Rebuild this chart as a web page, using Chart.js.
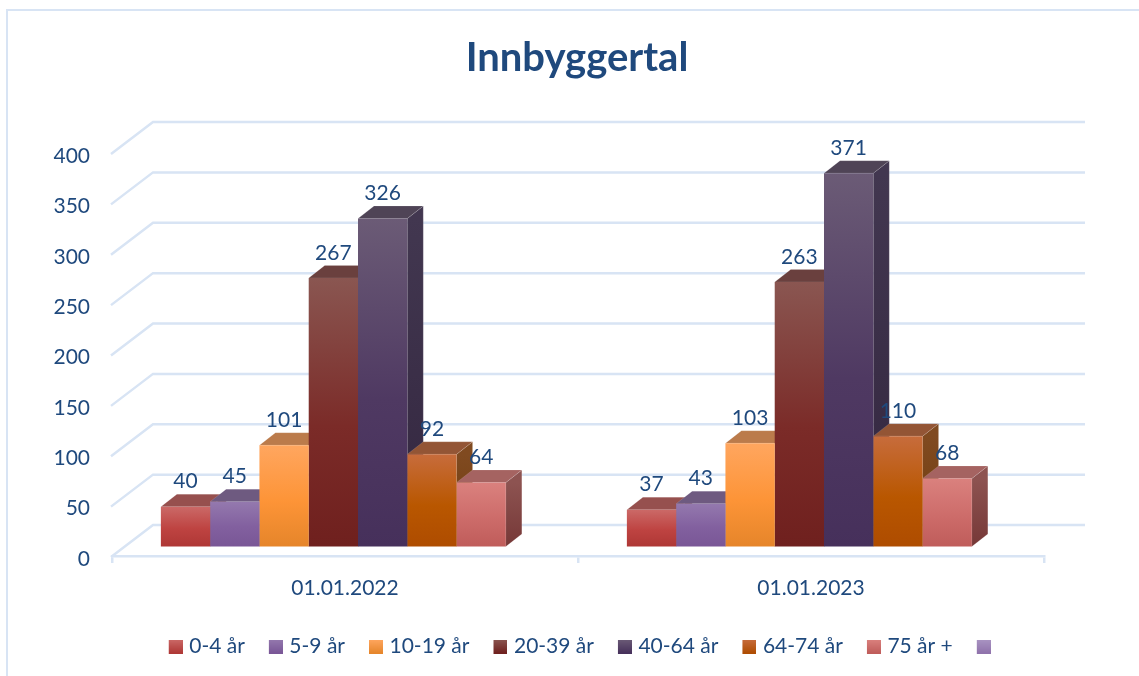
<!DOCTYPE html>
<html>
<head>
<meta charset="utf-8">
<title>Innbyggertal</title>
<script src="https://cdn.jsdelivr.net/npm/chart.js@4"></script>
<style>
  html, body { margin: 0; padding: 0; background: #fff; overflow: hidden; }
  canvas { display: block; }
</style>
</head>
<body>
<canvas id="chart" width="1139" height="676"></canvas>
<script>
var categories = ['01.01.2022', '01.01.2023'];
var seriesNames = ['0-4 år', '5-9 år', '10-19 år', '20-39 år', '40-64 år', '64-74 år', '75 år +', ''];
var age0to4 = [40, 37];
var age5to9 = [45, 43];
var age10to19 = [101, 103];
var age20to39 = [267, 263];
var age40to64 = [326, 371];
var age64to74 = [92, 110];
var age75plus = [64, 68];
var ageBlank = [null, null];
var seriesValues = [age0to4, age5to9, age10to19, age20to39, age40to64, age64to74, age75plus, ageBlank];

// front top, front middle, front bottom, top face, side top, side bottom
var palette = [
    ['#cb6967', '#be4341', '#ae3735', '#96504e', '#8a4644', '#7a3230'],
    ['#9479ae', '#82609f', '#795696', '#6e5a80', '#5f4a75', '#54406a'],
    ['#ffa65f', '#fd9437', '#e5852a', '#bb7b4b', '#a86a38', '#96591f'],
    ['#8a5651', '#7b2b28', '#6f201e', '#6a403e', '#552c2a', '#471a18'],
    ['#6b5b76', '#4f3962', '#46305b', '#4f4456', '#423750', '#33263f'],
    ['#c76c3c', '#b95700', '#ae4c00', '#935535', '#804a20', '#6d3a0c'],
    ['#da817e', '#cd6c6a', '#bf5c5a', '#a56361', '#8d5351', '#763837'],
    ['#a994c2', '#9679b0', '#8f72ab', '#7a6590', '#6a5580', '#5a4570']
];

var textColor = '#1f497d';
var gridColor = '#d8e4f4';
var gridWidth = 2.5;
var edgeColor = 'rgba(255,255,255,0.12)';
var wallDx = 41, wallDy = -31;   // depth of the floor and side wall
var barDx = 13, barDy = -9;      // bars stand a bit back from the front edge
var faceDx = 16, faceDy = -12.5; // depth of each bar
var legendShift = 4;

function frontFill(index) {
    return function (c) {
        var p = palette[index];
        if (!c.parsed || c.parsed.y == null || !c.chart.scales.y) return p[1];
        var y = c.chart.scales.y;
        var g = c.chart.ctx.createLinearGradient(0, y.getPixelForValue(c.parsed.y), 0, y.getPixelForValue(0));
        g.addColorStop(0, p[0]);
        g.addColorStop(0.55, p[1]);
        g.addColorStop(1, p[2]);
        return g;
    };
}

// the swatch sits at the right of a wider canvas, that puts it closer to its text
function legendIcon(index) {
    var cv = document.createElement('canvas');
    cv.width = 22;
    cv.height = 14;
    var cx = cv.getContext('2d');
    var g = cx.createLinearGradient(0, 0, 0, 14);
    g.addColorStop(0, palette[index][0]);
    g.addColorStop(1, palette[index][2]);
    cx.fillStyle = g;
    cx.fillRect(8, 0, 14, 14);
    return cv;
}

function fillShape(ctx, pts, fill) {
    ctx.beginPath();
    ctx.moveTo(pts[0][0], pts[0][1]);
    for (var i = 1; i < pts.length; i++) ctx.lineTo(pts[i][0], pts[i][1]);
    ctx.closePath();
    ctx.fillStyle = fill;
    ctx.fill();
    ctx.strokeStyle = edgeColor;
    ctx.lineWidth = 1;
    ctx.stroke();
}

var scene3d = {
    id: 'scene3d',
    afterLayout: function (chart) {
        chart.legend.left += legendShift;
        chart.legend.right += legendShift;
    },
    beforeDraw: function (chart) {
        // frame of the chart box, open at right and bottom
        var ctx = chart.ctx;
        ctx.save();
        ctx.strokeStyle = gridColor;
        ctx.lineWidth = 2;
        ctx.beginPath();
        ctx.moveTo(7, chart.height);
        ctx.lineTo(7, 10);
        ctx.lineTo(chart.width, 10);
        ctx.stroke();
        ctx.restore();
    },
    beforeDatasetsDraw: function (chart) {
        var ctx = chart.ctx, xs = chart.scales.x, ys = chart.scales.y;
        ctx.save();
        ctx.strokeStyle = gridColor;
        ctx.lineWidth = gridWidth;
        ys.ticks.forEach(function (t) {
            var py = ys.getPixelForValue(t.value);
            ctx.beginPath();
            ctx.moveTo(xs.left - 1, py + 1);
            ctx.lineTo(xs.left + wallDx, py + wallDy);
            ctx.lineTo(xs.right + wallDx, py + wallDy);
            ctx.stroke();
        });
        ctx.restore();

        // tops and sides behind the fronts, series by series from the left
        ctx.save();
        ctx.translate(barDx, barDy);
        categories.forEach(function (cat, ci) {
            seriesValues.forEach(function (vals, si) {
                var el = chart.getDatasetMeta(si).data[ci];
                if (!el || vals[ci] == null) return;
                var p = palette[si];
                var l = el.x - el.width / 2, r = el.x + el.width / 2;
                var t = el.y, b = el.base;
                var g = ctx.createLinearGradient(0, t, 0, b);
                g.addColorStop(0, p[4]);
                g.addColorStop(1, p[5]);
                fillShape(ctx, [[r, t], [r + faceDx, t + faceDy], [r + faceDx, b + faceDy], [r, b]], g);
                fillShape(ctx, [[l, t], [l + faceDx, t + faceDy], [r + faceDx, t + faceDy], [r, t]], p[3]);
            });
        });
        ctx.restore();

        ctx.save();
        ctx.translate(barDx, barDy);
    },
    afterDatasetsDraw: function (chart) {
        var ctx = chart.ctx;
        ctx.restore();

        ctx.save();
        ctx.translate(barDx, barDy);
        ctx.fillStyle = textColor;
        ctx.font = '21px Lato';
        ctx.textAlign = 'center';
        ctx.textBaseline = 'middle';
        seriesValues.forEach(function (vals, si) {
            chart.getDatasetMeta(si).data.forEach(function (el, ci) {
                if (vals[ci] == null) return;
                ctx.fillText(String(vals[ci]), el.x, el.y - 25);
            });
        });
        ctx.restore();
    }
};

var datasets = seriesNames.map(function (name, i) {
    return {
        label: name,
        data: seriesValues[i],
        backgroundColor: frontFill(i),
        borderWidth: 0,
        barPercentage: 1,
        categoryPercentage: 0.846
    };
});

new Chart(document.getElementById('chart').getContext('2d'), {
    type: 'bar',
    data: { labels: categories, datasets: datasets },
    plugins: [scene3d],
    options: {
        responsive: false,
        animation: false,
        layout: { padding: { left: 20, right: 5, top: 0, bottom: 9 } },
        plugins: {
            title: {
                display: true,
                text: 'Innbyggertal',
                color: textColor,
                font: { family: 'Lato', size: 40, weight: 'bold' },
                padding: { top: 34, bottom: 71 }
            },
            legend: {
                position: 'bottom',
                labels: {
                    color: textColor,
                    font: { family: 'Lato', size: 21 },
                    usePointStyle: true,
                    pointStyleWidth: 14,
                    padding: 20,
                    generateLabels: function (chart) {
                        return seriesNames.map(function (name, i) {
                            return {
                                text: name,
                                fontColor: textColor,
                                pointStyle: legendIcon(i),
                                fillStyle: palette[i][1],
                                strokeStyle: 'transparent',
                                lineWidth: 0,
                                datasetIndex: i,
                                hidden: false
                            };
                        });
                    }
                }
            },
            tooltip: { enabled: false }
        },
        scales: {
            x: {
                grid: { drawOnChartArea: false, color: gridColor, lineWidth: gridWidth, tickLength: 7 },
                border: { color: gridColor, width: gridWidth },
                ticks: { color: textColor, font: { family: 'Lato', size: 21 }, padding: 13, maxRotation: 0 },
                afterFit: function (s) { s.height = 60; }
            },
            y: {
                min: 0,
                max: 400,
                grid: { drawOnChartArea: false, drawTicks: false },
                border: { display: false },
                ticks: { color: textColor, font: { family: 'Lato', size: 21 }, stepSize: 50, padding: 22, labelOffset: 3 },
                afterFit: function (s) { s.width = 92; }
            },
            yRight: {
                type: 'linear',
                position: 'right',
                grid: { display: false },
                border: { display: false },
                ticks: { display: false },
                afterFit: function (s) { s.width = 90; }
            }
        }
    }
});
</script>
</body>
</html>
